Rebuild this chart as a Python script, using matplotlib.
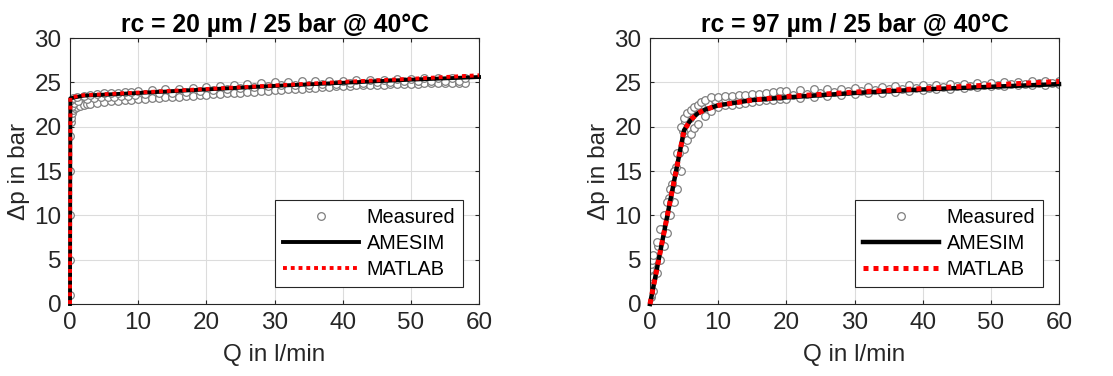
import matplotlib
matplotlib.use("Agg")
import matplotlib.pyplot as plt

plt.rcParams['font.family'] = ['Liberation Sans', 'DejaVu Sans']

# ---- left panel : rc = 20 um ----
meas_q_lo_l = [0, 0, 0, 0, 0, 0.1, 0.2, 0.3, 0.5, 0.8, 1, 1.5, 2, 2.5, 3,
               4, 5, 6, 7, 8, 9, 10, 11, 12, 13, 14, 15, 16, 17, 18,
               19, 20, 21, 22, 23, 24, 25, 26, 27, 28, 29, 30, 31, 32, 33,
               34, 35, 36, 37, 38, 39, 40, 41, 42, 43, 44, 45, 46, 47, 48,
               49, 50, 51, 52, 53, 54, 55, 56, 57, 58]
meas_p_lo_l = [1, 5, 10, 15, 19, 20.5, 21, 21.5, 21.9, 22.1, 22.2, 22.35, 22.45, 22.55, 22.6,
               22.7, 22.8, 22.85, 22.9, 23.0, 23.05, 23.1, 23.15, 23.2, 23.25, 23.3, 23.35, 23.4, 23.45, 23.5,
               23.55, 23.6, 23.65, 23.7, 23.75, 23.8, 23.85, 23.9, 23.95, 24.0, 24.05, 24.1, 24.15, 24.2, 24.25,
               24.3, 24.35, 24.4, 24.45, 24.5, 24.55, 24.6, 24.62, 24.65, 24.68, 24.7, 24.72, 24.75, 24.78, 24.8,
               24.82, 24.84, 24.86, 24.88, 24.9, 24.9, 24.92, 24.94, 24.96, 24.98]
meas_q_mid_l = [0.3, 0.6, 1.2, 2.5, 3.5, 4.5, 5.5, 6.5, 7.5, 8.5, 9.5, 11, 13, 15, 17,
                19, 21, 23, 25, 27, 29, 31, 33, 35, 37, 39, 41, 43, 45, 47,
                49, 51, 53, 55, 57]
meas_p_mid_l = [22.3, 22.7, 22.9, 23.1, 23.2, 23.3, 23.35, 23.4, 23.45, 23.5, 23.55, 23.65, 23.75, 23.85, 23.95,
                24.05, 24.15, 24.25, 24.35, 24.45, 24.55, 24.65, 24.7, 24.75, 24.8, 24.85, 24.9, 24.95, 25.0, 25.05,
                25.1, 25.1, 25.15, 25.2, 25.2]
meas_q_up_l = [0.2, 0.5, 1, 2, 3, 4, 5, 6, 7, 8, 9, 10, 12, 14, 16, 18, 20, 22,
               24, 26, 28, 30, 32, 34, 36, 38, 40, 42, 44, 46, 48, 50, 52, 54, 56, 58]
meas_p_up_l = [23.0, 23.2, 23.4, 23.5, 23.6, 23.7, 23.75, 23.8, 23.85, 23.9, 23.95, 24.0,
               24.1, 24.2, 24.3, 24.4, 24.5, 24.6, 24.7, 24.8, 24.9, 25.0, 25.05, 25.1,
               25.1, 25.15, 25.2, 25.25, 25.3, 25.3, 25.35, 25.4, 25.45, 25.45, 25.5, 25.5]
model_q_l = [0, 0.05, 2, 10, 20, 30, 40, 50, 60]
amesim_p_l = [0, 23.2, 23.5, 23.8, 24.2, 24.6, 24.95, 25.3, 25.6]
matlab_p_l = [0, 23.3, 23.55, 23.85, 24.25, 24.65, 25.05, 25.4, 25.8]

# ---- right panel : rc = 97 um ----
meas_q_lo_r = [0.2, 0.5, 1, 1.5, 2, 2.5, 3, 3.5, 4, 4.5, 5, 5.5, 6, 6.5, 7,
               8, 9, 10, 11, 12, 13, 14, 15, 16, 17, 18, 19, 20, 22, 24,
               26, 28, 30, 32, 34, 36, 38, 40, 42, 44, 46, 48, 50, 52, 54,
               56, 58, 60]
meas_p_lo_r = [0.8, 1.5, 3.5, 5, 6.5, 8, 10, 11.5, 13, 15, 17.5, 18.5, 19.2, 19.8, 20.3,
               21.2, 21.8, 22.2, 22.4, 22.5, 22.6, 22.7, 22.8, 22.9, 23.0, 23.05, 23.1, 23.15, 23.25, 23.35,
               23.45, 23.55, 23.65, 23.75, 23.85, 23.95, 24.05, 24.15, 24.25, 24.3, 24.4, 24.5, 24.55, 24.6, 24.65,
               24.7, 24.75, 24.8]
meas_q_mid_r = [0.1, 0.4, 0.8, 1.2, 1.8, 2.2, 2.8, 3.2, 3.8, 4.2, 4.8, 5.2, 5.8, 6.2, 7,
                7.5, 8.5, 9.5, 11, 13, 15, 17, 19, 21, 23, 25, 27, 29, 31, 33,
                35, 37, 39, 41, 43, 45, 47, 49, 51, 53, 55, 57, 59]
meas_p_mid_r = [1, 3, 5, 6.5, 8.5, 10, 12, 13.5, 15.5, 17, 19.5, 20.5, 21, 21.5, 22,
                22.3, 22.7, 23.0, 23.1, 23.2, 23.3, 23.4, 23.5, 23.6, 23.7, 23.8, 23.9, 24.0, 24.05, 24.1,
                24.2, 24.3, 24.35, 24.4, 24.5, 24.55, 24.6, 24.7, 24.75, 24.8, 24.85, 24.9, 24.95]
meas_q_up_r = [0, 0, 0.1, 0.3, 0.5, 1, 1.5, 2, 2.5, 3, 3.5, 4, 4.5, 5, 5.5,
               6, 6.5, 7, 7.5, 8, 9, 10, 11, 12, 13, 14, 15, 16, 17, 18,
               19, 20, 22, 24, 26, 28, 30, 32, 34, 36, 38, 40, 42, 44, 46,
               48, 50, 52, 54, 56, 58, 60]
meas_p_up_r = [2, 4, 4.5, 5, 5.5, 7, 8.5, 10, 11.5, 13, 15, 17, 20, 21, 21.5,
               21.9, 22.2, 22.5, 22.8, 23.0, 23.3, 23.4, 23.45, 23.5, 23.55, 23.6, 23.65, 23.7, 23.8, 23.9,
               24.0, 24.05, 24.1, 24.2, 24.25, 24.3, 24.4, 24.45, 24.5, 24.6, 24.65, 24.7, 24.75, 24.8, 24.85,
               24.9, 24.95, 25.0, 25.05, 25.1, 25.15, 25.2]
model_q_r = [0, 5, 6, 7, 8, 10, 15, 20, 30, 40, 50, 60]
amesim_p_r = [0, 19.6, 20.8, 21.5, 21.9, 22.4, 23.0, 23.3, 23.8, 24.2, 24.5, 24.8]
matlab_p_r = [0, 19.6, 20.8, 21.5, 21.9, 22.4, 23.0, 23.4, 23.9, 24.3, 24.7, 25.1]

titles = ["rc = 20 µm / 25 bar @ 40°C", "rc = 97 µm / 25 bar @ 40°C"]
dark = '#262626'

fig = plt.figure(figsize=(11.13, 3.76), dpi=100)
ax1 = fig.add_axes([0.0629, 0.1915, 0.3675, 0.7074])
ax2 = fig.add_axes([0.584, 0.1915, 0.3675, 0.7074])

panels = [
    (ax1, [(meas_q_lo_l, meas_p_lo_l), (meas_q_mid_l, meas_p_mid_l), (meas_q_up_l, meas_p_up_l)],
     model_q_l, amesim_p_l, matlab_p_l, 2.8, 2.8),
    (ax2, [(meas_q_lo_r, meas_p_lo_r), (meas_q_mid_r, meas_p_mid_r), (meas_q_up_r, meas_p_up_r)],
     model_q_r, amesim_p_r, matlab_p_r, 3.2, 3.6),
]

for i, (ax, meas, mq, pa, pm, lwa, lwm) in enumerate(panels):
    first = True
    for q, p in meas:
        ax.plot(q, p, linestyle='none', marker='o', markersize=5.5, markerfacecolor='white',
                markeredgecolor='#7f7f7f', markeredgewidth=0.9,
                label='Measured' if first else None, zorder=2)
        first = False
    ax.plot(mq, pa, color='black', lw=lwa, label='AMESIM', zorder=3, clip_on=False)
    ax.plot(mq, pm, color='red', lw=lwm, linestyle=(0, (1, 1)), label='MATLAB', zorder=4, clip_on=False)

    ax.set_xlim(0, 60)
    ax.set_ylim(0, 30)
    ax.set_xticks(range(0, 61, 10))
    ax.set_yticks(range(0, 31, 5))
    ax.grid(True, color='#dcdcdc', lw=0.8)
    ax.set_axisbelow(True)
    ax.tick_params(direction='in', length=3, colors=dark, labelsize=17.5, top=True, right=True, pad=6)
    for s in ax.spines.values():
        s.set_color(dark)
        s.set_linewidth(0.8)
    ax.set_title(titles[i], fontsize=17.7, fontweight='bold', pad=4)
    ax.set_xlabel("Q in l/min", fontsize=17.5, color=dark, labelpad=7)
    ax.set_ylabel("Δp in bar", fontsize=17.5, color=dark, labelpad=3)
    leg = ax.legend(loc='lower right', bbox_to_anchor=(0.961, 0.064), borderaxespad=0,
                    fontsize=14.3, handlelength=3.8, handletextpad=0.4, labelspacing=0.35,
                    fancybox=False, framealpha=1, edgecolor=dark, borderpad=0.4)
    leg.get_frame().set_linewidth(0.8)

fig.savefig("out.png", dpi=100)
